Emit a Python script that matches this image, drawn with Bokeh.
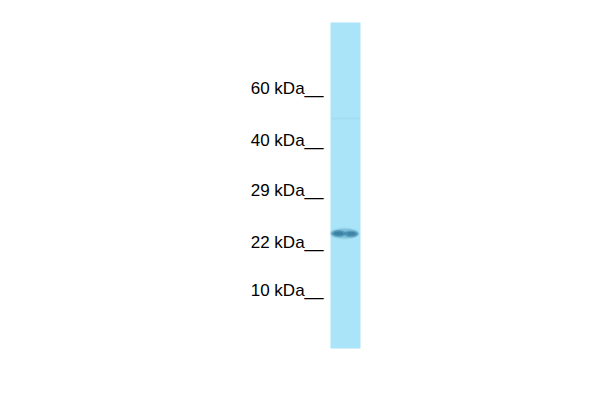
from bokeh.plotting import figure
from bokeh.models import Range1d, ColumnDataSource
from bokeh.core.properties import value
from bokeh.embed import file_html
from bokeh.resources import INLINE

# marker ladder
marker_labels = ["60 kDa__", "40 kDa__", "29 kDa__", "22 kDa__", "10 kDa__"]
marker_pos = [88, 140, 190, 242, 290]

# lane extent
lane_left, lane_right = [330], [360]
lane_top, lane_bottom = [22], [348]

# band layers: centre x, centre y, width, height, alpha
band_x = [344, 344, 338, 351, 338, 351, 344]
band_y = [233, 233, 233, 233.5, 233, 233.5, 233]
band_w = [30, 27, 14, 14, 9, 9, 24]
band_h = [12, 9, 7, 7, 4.5, 4.5, 4]
band_a = [0.12, 0.2, 0.35, 0.32, 0.35, 0.3, 0.25]

# faint features
faint_x = [345]
faint_y = [118]

p = figure(width=584, height=384, output_backend="svg", toolbar_location=None,
           x_range=Range1d(0, 584), y_range=Range1d(384, 0),
           min_border=0)
p.axis.visible = False
p.grid.visible = False
p.outline_line_color = None
p.background_fill_color = "white"
p.border_fill_color = "white"

p.quad(left=lane_left, right=lane_right, top=lane_top, bottom=lane_bottom,
       fill_color="#a9e4f8", line_color=None)

p.rect(x=faint_x, y=faint_y, width=28, height=2, fill_color="#9fd6ea",
       line_color=None, alpha=0.5)

src = ColumnDataSource(dict(x=band_x, y=band_y, w=band_w, h=band_h, a=band_a))
p.ellipse(x="x", y="y", width="w", height="h", fill_color="#1d6890",
          fill_alpha="a", line_color=None, source=src)

p.text(x=[323] * len(marker_labels), y=marker_pos, text=marker_labels,
       text_font=value("Liberation Sans"), text_font_size="17px",
       text_align="right", text_baseline="middle", text_color="#000000")

open("out.html", "w").write(file_html(p, INLINE))
